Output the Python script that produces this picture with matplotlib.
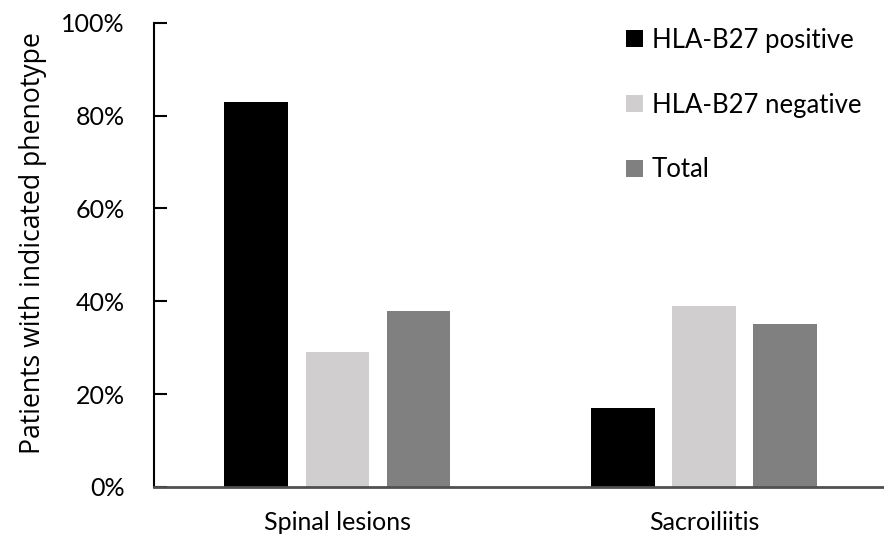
import numpy as np
import matplotlib.pyplot as plt

# values
categories = ["Spinal lesions", "Sacroiliitis"]
series_names = ["HLA-B27 positive", "HLA-B27 negative", "Total"]
hla_pos = [0.83, 0.17]
hla_neg = [0.29, 0.39]
total = [0.38, 0.35]
y_ticks = [0, 0.2, 0.4, 0.6, 0.8, 1.0]
y_tick_labels = ["0%", "20%", "40%", "60%", "80%", "100%"]

COLORS = ["#000000", "#D0CECE", "#808080"]
BAR_W = 0.174
PITCH = 0.221

plt.rcParams['font.family'] = ['Lato', 'DejaVu Sans']

fig = plt.figure(figsize=(8.84, 5.44), dpi=100)
ax = fig.add_axes([0.1742, 0.1048, 0.83, 0.8535])

x = np.arange(len(categories))
for i, (vals, name) in enumerate(zip([hla_pos, hla_neg, total], series_names)):
    ax.bar(x + (i - 1) * PITCH, vals, width=BAR_W, color=COLORS[i], label=name)

ax.set_xlim(-0.5, 1.5)
ax.set_ylim(0, 1.0)
ax.set_yticks(y_ticks)
ax.set_yticklabels(y_tick_labels, fontsize=18)
ax.set_xticks(x)
ax.set_xticklabels(categories, fontsize=18)

ax.tick_params(axis='y', direction='in', length=9, width=1.5, pad=21)
ax.tick_params(axis='x', length=0, pad=17)

for side in ['top', 'right']:
    ax.spines[side].set_visible(False)
ax.spines['left'].set_linewidth(1.5)
ax.spines['left'].set_color('black')
ax.spines['bottom'].set_linewidth(2)
ax.spines['bottom'].set_color('#505050')

ax.set_ylabel("Patients with indicated phenotype", fontsize=19.2,
              family=['Open Sans', 'DejaVu Sans'])
ax.yaxis.set_label_coords(-0.146, 0.525)

ax.legend(loc='upper left', bbox_to_anchor=(0.697, 0.968), bbox_transform=fig.transFigure,
          frameon=False, fontsize=18.5, handlelength=0.65, handleheight=0.65,
          handletextpad=0.35, labelspacing=1.55, borderaxespad=0)

fig.savefig("out.png", dpi=100)
